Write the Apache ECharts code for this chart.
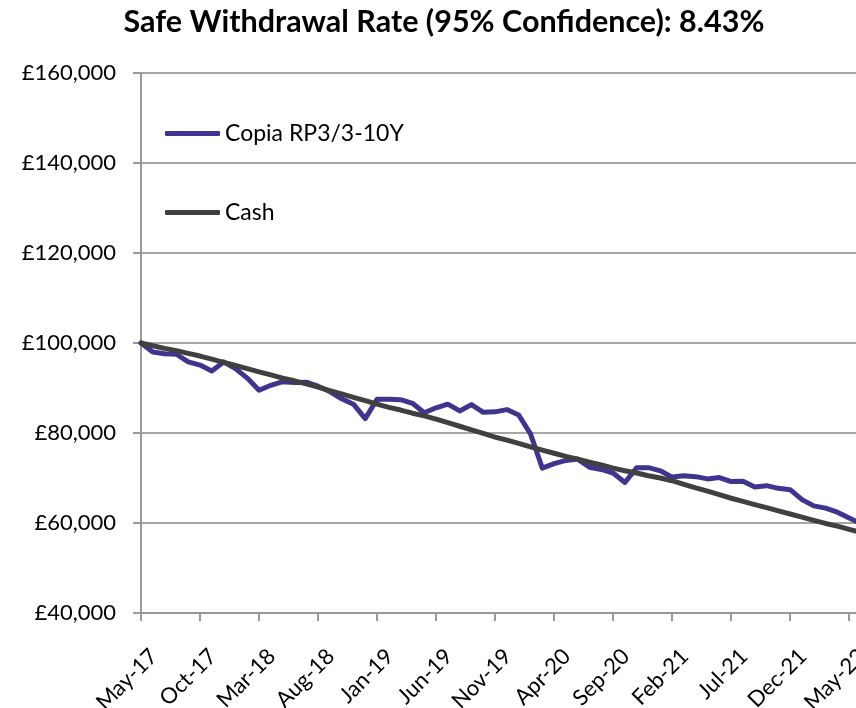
<!DOCTYPE html>
<html>
<head>
<meta charset="utf-8">
<script src="https://cdn.jsdelivr.net/npm/echarts@6/dist/echarts.min.js"></script>
<style>
html,body{margin:0;padding:0;background:#fff;}
#chart{width:856px;height:708px;}
</style>
</head>
<body>
<div id="chart"></div>
<script>
const months = [
 'May-17','Jun-17','Jul-17','Aug-17','Sep-17','Oct-17','Nov-17','Dec-17','Jan-18','Feb-18','Mar-18','Apr-18',
 'May-18','Jun-18','Jul-18','Aug-18','Sep-18','Oct-18','Nov-18','Dec-18','Jan-19','Feb-19','Mar-19','Apr-19',
 'May-19','Jun-19','Jul-19','Aug-19','Sep-19','Oct-19','Nov-19','Dec-19','Jan-20','Feb-20','Mar-20','Apr-20',
 'May-20','Jun-20','Jul-20','Aug-20','Sep-20','Oct-20','Nov-20','Dec-20','Jan-21','Feb-21','Mar-21','Apr-21',
 'May-21','Jun-21','Jul-21','Aug-21','Sep-21','Oct-21','Nov-21','Dec-21','Jan-22','Feb-22','Mar-22','Apr-22',
 'May-22','Jun-22'
];
const copia = [
 100000, 98000, 97600, 97500, 95800, 95100, 93800, 95800, 94300, 92200, 89500, 90600,
 91400, 91200, 91300, 90400, 89200, 87600, 86400, 83200, 87500, 87500, 87400, 86600,
 84500, 85600, 86400, 84900, 86300, 84600, 84700, 85200, 84000, 79800, 72200, 73200,
 73900, 74200, 72400, 71900, 71100, 69000, 72300, 72300, 71600, 70200, 70500, 70300,
 69800, 70100, 69200, 69300, 68000, 68300, 67700, 67400, 65200, 63800, 63300, 62400,
 61100, 59900
];
const cash = [
 100000, 99400, 98800, 98300, 97700, 97100, 96400, 95700, 95000, 94300, 93600, 92900,
 92200, 91600, 90900, 90200, 89400, 88700, 87900, 87200, 86400, 85700, 85100, 84400,
 83800, 83100, 82300, 81500, 80700, 79900, 79100, 78400, 77700, 76900, 76200, 75500,
 74800, 74200, 73500, 72900, 72200, 71600, 71100, 70500, 70000, 69400, 68600, 67800,
 67100, 66300, 65500, 64800, 64100, 63400, 62700, 62000, 61300, 60600, 59900, 59300,
 58600, 57900
];
const seriesNames = ['Copia RP3/3-10Y', 'Cash'];
const titleText = 'Safe Withdrawal Rate (95% Confidence): 8.43%';
const yMin = 40000, yMax = 160000, yStep = 20000;

const FONT = 'Lato';
const chart = echarts.init(document.getElementById('chart'));
function fmt(v){ return '£' + String(v).replace(/\B(?=(\d{3})+(?!\d))/g, ','); }
chart.setOption({
  animation: false,
  backgroundColor: '#fff',
  title: {
    text: titleText, left: 439, top: 2, textAlign: 'center',
    textStyle: {fontFamily: FONT, fontWeight: 'bold', fontSize: 30.5, color: '#000'}
  },
  legend: [
    {data: [seriesNames[0]], left: 160, top: 117, icon: 'roundRect', itemWidth: 55, itemHeight: 5,
     textStyle: {fontFamily: FONT, fontSize: 23, color: '#000'}},
    {data: [seriesNames[1]], left: 160, top: 196, icon: 'roundRect', itemWidth: 55, itemHeight: 5,
     textStyle: {fontFamily: FONT, fontSize: 23, color: '#000'}}
  ],
  grid: {left: 141, top: 73, bottom: 95, right: -5, containLabel: false, outerBoundsMode: 'none'},
  xAxis: {
    type: 'category', data: months, boundaryGap: false,
    axisLine: {lineStyle: {color: '#999', width: 2}},
    axisTick: {interval: 4, length: 8, lineStyle: {color: '#999', width: 2}},
    axisLabel: {interval: 4, rotate: 45, margin: 27, verticalAlign: 'top', padding: [7, 0, 0, 0],
      fontFamily: FONT, fontSize: 22, color: '#000', hideOverlap: false},
    splitLine: {show: false}
  },
  yAxis: {
    type: 'value', min: yMin, max: yMax, interval: yStep,
    axisLine: {show: true, lineStyle: {color: '#999', width: 2}},
    axisTick: {show: true, length: 8, lineStyle: {color: '#999', width: 2}},
    axisLabel: {margin: 25, fontFamily: FONT, fontSize: 22, color: '#000', formatter: fmt},
    splitLine: {show: true, lineStyle: {color: '#a6a6a6', width: 2}}
  },
  series: [
    {name: seriesNames[0], type: 'line', data: copia, showSymbol: false, symbol: 'none',
     lineStyle: {color: '#3f3590', width: 5, cap: 'round', join: 'round'}, itemStyle: {color: '#3f3590'}, z: 2},
    {name: seriesNames[1], type: 'line', data: cash, showSymbol: false, symbol: 'none',
     lineStyle: {color: '#404040', width: 5, cap: 'round', join: 'round'}, itemStyle: {color: '#404040'}, z: 3}
  ]
});
</script>
</body>
</html>
